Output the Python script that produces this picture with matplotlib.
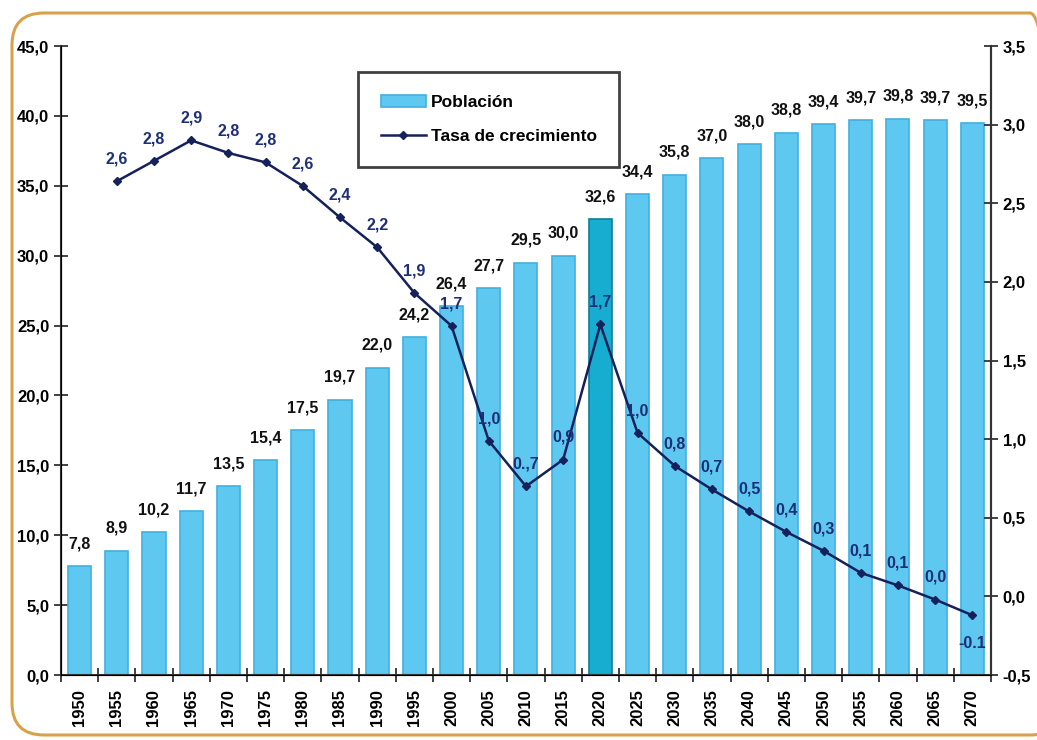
import matplotlib
matplotlib.use("Agg")
import matplotlib.pyplot as plt
from matplotlib.patches import FancyBboxPatch
from matplotlib.transforms import IdentityTransform
from matplotlib.ticker import FuncFormatter, MultipleLocator

years = [1950, 1955, 1960, 1965, 1970, 1975, 1980, 1985, 1990, 1995, 2000, 2005,
         2010, 2015, 2020, 2025, 2030, 2035, 2040, 2045, 2050, 2055, 2060, 2065, 2070]
poblacion = [7.8, 8.9, 10.2, 11.7, 13.5, 15.4, 17.5, 19.7, 22.0, 24.2, 26.4, 27.7,
             29.5, 30.0, 32.6, 34.4, 35.8, 37.0, 38.0, 38.8, 39.4, 39.7, 39.8, 39.7, 39.5]
# growth rate starts in 1955
tasa = [None, 2.64, 2.77, 2.90, 2.82, 2.76, 2.61, 2.41, 2.22, 1.93, 1.72, 0.99,
        0.70, 0.87, 1.73, 1.04, 0.83, 0.68, 0.54, 0.41, 0.29, 0.15, 0.07, -0.02, -0.12]
tasa_labels = [None, "2,6", "2,8", "2,9", "2,8", "2,8", "2,6", "2,4", "2,2", "1,9", "1,7", "1,0",
               "0.,7", "0,9", "1,7", "1,0", "0,8", "0,7", "0,5", "0,4", "0,3", "0,1", "0,1", "0,0", "-0.1"]

FONT = ["Liberation Sans Narrow", "Liberation Sans", "DejaVu Sans"]
plt.rcParams["font.family"] = FONT

fig = plt.figure(figsize=(10.37, 7.40), dpi=100)
ax = fig.add_axes([0.0588, 0.0878, 0.8968, 0.850])

# rounded orange frame, in pixels (runs off the right edge like the source)
frame = FancyBboxPatch((12, 5), 1050, 722,
                       boxstyle="round,pad=0,rounding_size=32",
                       transform=IdentityTransform(), fill=False, edgecolor="#d8a24c",
                       linewidth=2.2, zorder=-5)
fig.patches.append(frame)

x = list(range(len(years)))
colors = ["#17add0" if y == 2020 else "#5ec8f0" for y in years]
edges = ["#0a7f9c" if y == 2020 else "#3fb0e0" for y in years]
bars = ax.bar(x, poblacion, width=0.62, color=colors, edgecolor=edges, linewidth=1.2,
              label="Población", zorder=2)
for xi, v in zip(x, poblacion):
    ax.annotate(f"{v:.1f}".replace(".", ","), (xi, v), xytext=(0, 16),
                textcoords="offset points", ha="center", va="center",
                fontsize=11.5, fontweight="bold", color="#111111")

ax.set_xlim(-0.5, len(years) - 0.5)
ax.set_ylim(0, 45)
ax.yaxis.set_major_locator(MultipleLocator(5))
ax.yaxis.set_major_formatter(FuncFormatter(lambda v, p: f"{v:.1f}".replace(".", ",")))
ax.set_xticks(x)
ax.set_xticklabels([str(y) for y in years], rotation=90, fontsize=12, fontweight="bold")
ax.tick_params(axis="x", length=0, pad=10)
ax.set_xticks([i - 0.5 for i in x] + [len(years) - 0.5], minor=True)
ax.tick_params(axis="x", which="minor", direction="inout", length=10, width=1.3, color="#333333")
ax.tick_params(axis="y", direction="inout", length=10, width=1.3, labelsize=12, color="#333333")
for lab in ax.get_yticklabels():
    lab.set_fontweight("bold")

ax.spines["top"].set_visible(False)
for s in ["left", "bottom", "right"]:
    ax.spines[s].set_linewidth(1.5)
    ax.spines[s].set_color("#333333")

ax2 = ax.twinx()
xs = [xi for xi, t in zip(x, tasa) if t is not None]
ts = [t for t in tasa if t is not None]
ax2.plot(xs, ts, color="#15215a", linewidth=1.8, marker="D", markersize=4.5,
         label="Tasa de crecimiento", zorder=3)
for xi, t, lab in zip(x, tasa, tasa_labels):
    if t is None:
        continue
    dy = -20 if lab == "-0.1" else 16
    ax2.annotate(lab, (xi, t), xytext=(0, dy), textcoords="offset points",
                 ha="center", va="center", fontsize=11.5, fontweight="bold",
                 color="#1d2f78")
ax2.set_ylim(-0.5, 3.5)
ax2.yaxis.set_major_locator(MultipleLocator(0.5))
ax2.yaxis.set_major_formatter(FuncFormatter(lambda v, p: f"{v:.1f}".replace(".", ",")))
ax2.tick_params(axis="y", direction="inout", length=10, width=1.3, labelsize=12, color="#333333")
for lab in ax2.get_yticklabels():
    lab.set_fontweight("bold")
ax2.spines["top"].set_visible(False)
ax2.spines["right"].set_linewidth(1.5)
ax2.spines["right"].set_color("#333333")

handles = [bars, ax2.get_lines()[0]]
leg = fig.legend(handles, ["Población", "Tasa de crecimiento"],
                 loc="upper left", bbox_to_anchor=(358 / 1037, 1 - 72 / 740),
                 prop={"weight": "bold", "size": 12.5},
                 frameon=True, fancybox=False, borderpad=1.3, labelspacing=1.1,
                 handlelength=2.6, handletextpad=0.3, borderaxespad=0)
leg.get_frame().set_edgecolor("#111111")
leg.get_frame().set_linewidth(2.0)

fig.savefig("out.png", dpi=100)
